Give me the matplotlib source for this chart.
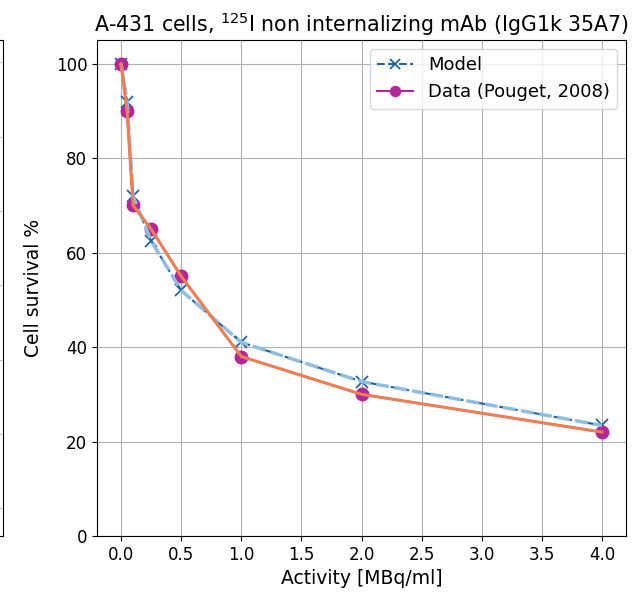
import matplotlib
matplotlib.use("Agg")
import matplotlib.pyplot as plt

activity = [0, 0.05, 0.1, 0.25, 0.5, 1, 2, 4]
model_survival = [100, 92, 72, 62.5, 52, 41, 32.7, 23.4]
data_survival = [100, 90, 70, 65, 55, 38, 30, 22]

plt.rcParams['xtick.labelsize'] = 12
plt.rcParams['ytick.labelsize'] = 12

fig = plt.figure(figsize=(6.34, 5.96), dpi=100)

# neighbouring panel, only its right edge shows
ax_prev = fig.add_axes([-0.5, 0.1007, 0.5 + 3/634, 0.832])
ax_prev.set_ylim(-0.37, 6.3)
ax_prev.set_yticks(range(7))
ax_prev.grid(True, color='#c8c8c8')
ax_prev.tick_params(labelleft=False, labelbottom=False, length=0)

ax = fig.add_axes([97/634, 0.1007, 529/634, 0.832])

ax.plot(activity, model_survival, 'x--', color='#1f64a0', markersize=9,
        markeredgewidth=1.3, label='Model')
ax.plot(activity, data_survival, 'o-', color='#b5259a', markersize=9,
        label='Data (Pouget, 2008)')
ax.plot(activity, model_survival, '--', color='#8fbde0', linewidth=2.5)
ax.plot(activity, data_survival, '-', color='#ec7f55', linewidth=2.2)

ax.set_ylim(0, 105)
ax.set_xticks([0, 0.5, 1, 1.5, 2, 2.5, 3, 3.5, 4])
ax.set_xlabel('Activity [MBq/ml]', fontsize=13.5)
ax.set_ylabel('Cell survival %', fontsize=13.5, labelpad=9)
ax.set_title(r'A-431 cells, $^{125}$I non internalizing mAb (IgG1k 35A7)', fontsize=14.8)
ax.grid(True)
ax.legend(loc='upper right', fontsize=13, markerscale=0.8)

plt.savefig('out.png', dpi=100)
